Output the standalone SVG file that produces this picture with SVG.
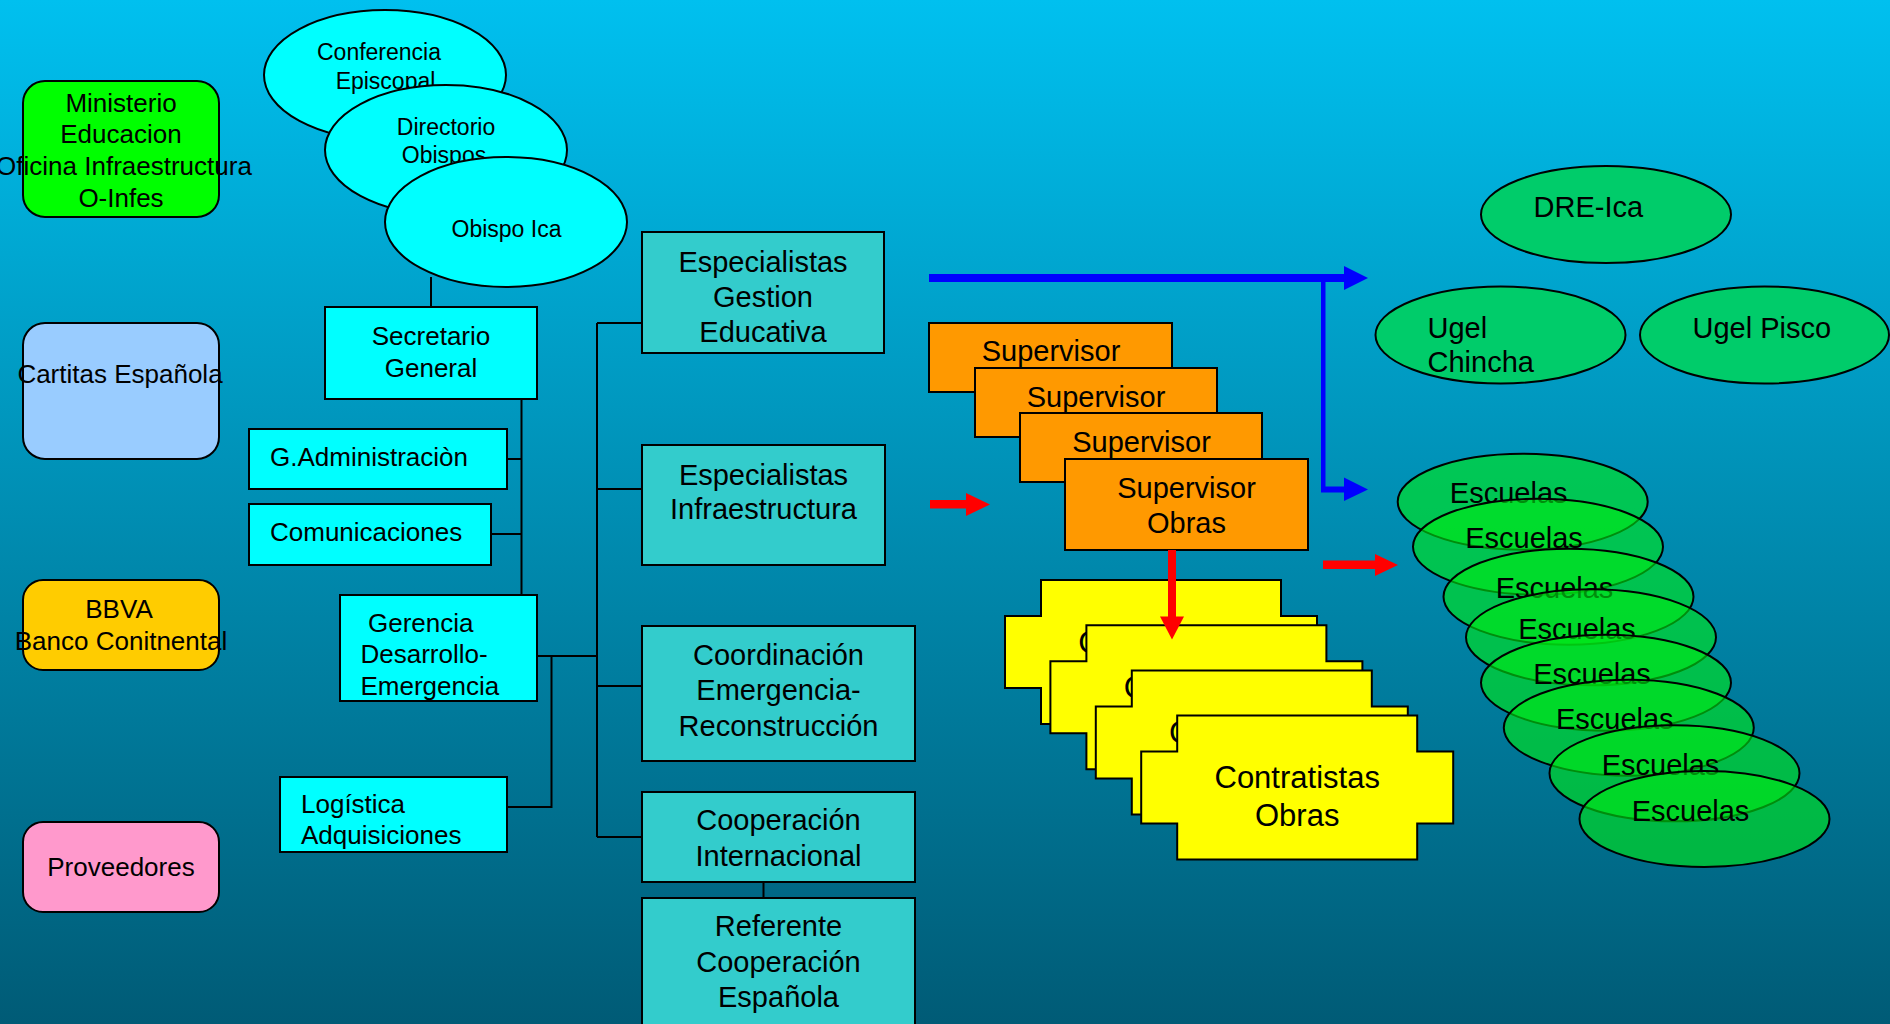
<svg xmlns="http://www.w3.org/2000/svg" width="1890" height="1024" viewBox="0 0 1890 1024">
<defs>
<linearGradient id="bg" x1="0" y1="0" x2="0" y2="1">
<stop offset="0" stop-color="#00c0ef"/>
<stop offset="1" stop-color="#005b76"/>
</linearGradient>
<path id="cross" d="M1041,580 H1281 V616 H1317 V688 H1281 V724 H1041 V688 H1005 V616 H1041 Z"/>
<style>
.t{font-family:"Liberation Sans",Arial,Helvetica,sans-serif;fill:#000}
.c{text-anchor:middle}
.f23{font-size:23px}.f26{font-size:26px}.f29{font-size:29px}.f31{font-size:31px}
.bx{stroke:#000;stroke-width:2}
.el{stroke:#000;stroke-width:2}
.cyan{fill:#00ffff}.teal{fill:#33cccc}.org{fill:#ff9900}.yel{fill:#ffff00}
.ugel{fill:#00cc6a}
.esc{fill:#00eb14;fill-opacity:0.6;stroke:#000;stroke-width:2}
.conn{stroke:#000;stroke-width:2;fill:none}
.blue{fill:#0000ff}.red{fill:#ff0000}
</style>
</defs>
<rect x="0" y="0" width="1890" height="1024" fill="url(#bg)"/>

<g id="ministerio">
<rect class="bx" x="23" y="81" width="196" height="136" rx="22" fill="#00ff00"/>
<text class="t f26 c" x="121" y="112">Ministerio</text>
<text class="t f26 c" x="121" y="143">Educacion</text>
<text class="t f26 c" x="124" y="175">Oficina Infraestructura</text>
<text class="t f26 c" x="121" y="207">O-Infes</text>
</g>
<g id="caritas">
<rect class="bx" x="23" y="323" width="196" height="136" rx="22" fill="#99ccff"/>
<text class="t f26 c" x="120" y="383">Cartitas Española</text>
</g>
<g id="bbva">
<rect class="bx" x="23" y="580" width="196" height="90" rx="20" fill="#ffcc00"/>
<text class="t f26 c" x="119" y="618">BBVA</text>
<text class="t f26 c" x="121" y="650">Banco Conitnental</text>
</g>
<g id="proveedores">
<rect class="bx" x="23" y="822" width="196" height="90" rx="20" fill="#ff99cc"/>
<text class="t f26 c" x="121" y="876">Proveedores</text>
</g>

<g id="connectors">
<path class="conn" d="M431,277 V307 M521.5,399 V595 M507,459 H521.5 M491,534 H521.5 M537,656 H597 M597,323 V837 M597,323 H642 M597,489 H642 M597,686 H642 M597,837 H642 M551.5,656 V807 H507 M763.5,882 V898"/>
<rect class="blue" x="929" y="274" width="416" height="8"/>
<polygon class="blue" points="1344,266 1368,278 1344,290"/>
<rect class="blue" x="1321" y="276" width="4.5" height="216"/>
<rect class="blue" x="1321" y="486.5" width="24" height="6"/>
<polygon class="blue" points="1344,477.5 1368,489.5 1344,501"/>
<rect class="red" x="930" y="500" width="37" height="8.5"/>
<polygon class="red" points="966,493 990,504.5 966,516"/>
</g>

<g id="conferencia">
<ellipse class="el cyan" cx="385" cy="75" rx="121" ry="65"/>
<text class="t f23 c" x="379" y="60">Conferencia</text>
<text class="t f23 c" x="385.5" y="89">Episcopal</text>
</g>
<g id="directorio">
<ellipse class="el cyan" cx="446" cy="150" rx="121" ry="65"/>
<text class="t f23 c" x="446" y="135">Directorio</text>
<text class="t f23 c" x="444" y="163">Obispos</text>
</g>
<g id="obispo-ica">
<ellipse class="el cyan" cx="506" cy="222" rx="121" ry="65"/>
<text class="t f23 c" x="506.5" y="237">Obispo Ica</text>
</g>

<g id="secretario">
<rect class="bx cyan" x="325" y="307" width="212" height="92"/>
<text class="t f26 c" x="431" y="345">Secretario</text>
<text class="t f26 c" x="431" y="377">General</text>
</g>
<g id="gadmin">
<rect class="bx cyan" x="249" y="429" width="258" height="60"/>
<text class="t f26" x="270" y="466">G.Administraciòn</text>
</g>
<g id="comunicaciones">
<rect class="bx cyan" x="249" y="504" width="242" height="61"/>
<text class="t f26" x="270" y="541">Comunicaciones</text>
</g>
<g id="gerencia">
<rect class="bx cyan" x="340" y="595" width="197" height="106"/>
<text class="t f26" x="368" y="632">Gerencia</text>
<text class="t f26" x="360.5" y="663">Desarrollo-</text>
<text class="t f26" x="360.5" y="695">Emergencia</text>
</g>
<g id="logistica">
<rect class="bx cyan" x="280" y="777" width="227" height="75"/>
<text class="t f26" x="301" y="813">Logística</text>
<text class="t f26" x="301" y="844">Adquisiciones</text>
</g>

<g id="esp-gestion">
<rect class="bx teal" x="642" y="232" width="242" height="121"/>
<text class="t f29 c" x="763" y="272">Especialistas</text>
<text class="t f29 c" x="763" y="307">Gestion</text>
<text class="t f29 c" x="763" y="342">Educativa</text>
</g>
<g id="esp-infra">
<rect class="bx teal" x="642" y="445" width="243" height="120"/>
<text class="t f29 c" x="763.5" y="485">Especialistas</text>
<text class="t f29 c" x="763.5" y="519">Infraestructura</text>
</g>
<g id="coordinacion">
<rect class="bx teal" x="642" y="626" width="273" height="135"/>
<text class="t f29 c" x="778.5" y="665">Coordinación</text>
<text class="t f29 c" x="778.5" y="700">Emergencia-</text>
<text class="t f29 c" x="778.5" y="735.5">Reconstrucción</text>
</g>
<g id="cooperacion">
<rect class="bx teal" x="642" y="792" width="273" height="90"/>
<text class="t f29 c" x="778.5" y="830">Cooperación</text>
<text class="t f29 c" x="778.5" y="866">Internacional</text>
</g>
<g id="referente">
<rect class="bx teal" x="642" y="898" width="273" height="140"/>
<text class="t f29 c" x="778.5" y="936">Referente</text>
<text class="t f29 c" x="778.5" y="972">Cooperación</text>
<text class="t f29 c" x="778.5" y="1007">Española</text>
</g>

<g id="supervisor-1">
<rect class="bx org" x="929" y="323" width="243" height="69"/>
<text class="t f29 c" x="1051" y="361">Supervisor</text>
</g>
<g id="supervisor-2">
<rect class="bx org" x="975" y="368" width="242" height="69"/>
<text class="t f29 c" x="1096" y="407">Supervisor</text>
</g>
<g id="supervisor-3">
<rect class="bx org" x="1020" y="413" width="242" height="69"/>
<text class="t f29 c" x="1141.5" y="452">Supervisor</text>
</g>
<g id="supervisor-obras">
<rect class="bx org" x="1065" y="459" width="243" height="91"/>
<text class="t f29 c" x="1186.5" y="498">Supervisor</text>
<text class="t f29 c" x="1186.5" y="533">Obras</text>
</g>

<g id="contratistas-1">
<use href="#cross" class="bx yel"/>
<text class="t f31 c" x="1161" y="652.5">Contratistas</text>
<text class="t f31 c" x="1161" y="690">Obras</text>
</g>
<g id="contratistas-2" transform="translate(45.4,45.2)">
<use href="#cross" class="bx yel"/>
<text class="t f31 c" x="1161" y="652.5">Contratistas</text>
<text class="t f31 c" x="1161" y="690">Obras</text>
</g>
<g id="contratistas-3" transform="translate(90.8,90.4)">
<use href="#cross" class="bx yel"/>
<text class="t f31 c" x="1161" y="652.5">Contratistas</text>
<text class="t f31 c" x="1161" y="690">Obras</text>
</g>
<g id="contratistas-obras" transform="translate(136.2,135.6)">
<use href="#cross" class="bx yel"/>
<text class="t f31 c" x="1161" y="652.5">Contratistas</text>
<text class="t f31 c" x="1161" y="690">Obras</text>
</g>

<g id="connectors-red">
<rect class="red" x="1168" y="550" width="8" height="68"/>
<polygon class="red" points="1160,616.5 1172,639.5 1184,616.5"/>
<rect class="red" x="1323" y="560.5" width="53" height="8.5"/>
<polygon class="red" points="1375,554 1398,565 1375,576"/>
</g>

<g id="dre-ica">
<ellipse class="el ugel" cx="1606" cy="214.5" rx="125" ry="48.5"/>
<text class="t f29" x="1533.5" y="216.5">DRE-Ica</text>
</g>
<g id="ugel-chincha">
<ellipse class="el ugel" cx="1500.5" cy="335" rx="125" ry="48.5"/>
<text class="t f29" x="1427.5" y="337.5">Ugel</text>
<text class="t f29" x="1427.5" y="372">Chincha</text>
</g>
<g id="ugel-pisco">
<ellipse class="el ugel" cx="1764.5" cy="335" rx="124.5" ry="48.5"/>
<text class="t f29" x="1692.5" y="337.5">Ugel Pisco</text>
</g>

<g id="escuelas-1">
<ellipse class="esc" cx="1522.7" cy="501.7" rx="125" ry="48"/>
<text class="t f29 c" x="1508.7" y="503.2">Escuelas</text>
</g>
<g id="escuelas-2">
<ellipse class="esc" cx="1538" cy="546.7" rx="125" ry="48"/>
<text class="t f29 c" x="1524" y="548.2">Escuelas</text>
</g>
<g id="escuelas-3">
<ellipse class="esc" cx="1568.5" cy="596.7" rx="125" ry="48"/>
<text class="t f29 c" x="1554.5" y="598.2">Escuelas</text>
</g>
<g id="escuelas-4">
<ellipse class="esc" cx="1591" cy="637.3" rx="125" ry="48"/>
<text class="t f29 c" x="1577" y="638.8">Escuelas</text>
</g>
<g id="escuelas-5">
<ellipse class="esc" cx="1606" cy="682.7" rx="125" ry="48"/>
<text class="t f29 c" x="1592" y="684.2">Escuelas</text>
</g>
<g id="escuelas-6">
<ellipse class="esc" cx="1628.8" cy="727.7" rx="125" ry="48"/>
<text class="t f29 c" x="1614.8" y="729.2">Escuelas</text>
</g>
<g id="escuelas-7">
<ellipse class="esc" cx="1674.5" cy="773.3" rx="125" ry="48"/>
<text class="t f29 c" x="1660.5" y="774.8">Escuelas</text>
</g>
<g id="escuelas-8">
<ellipse class="esc" cx="1704.5" cy="819" rx="125" ry="48"/>
<text class="t f29 c" x="1690.5" y="820.5">Escuelas</text>
</g>
</svg>
